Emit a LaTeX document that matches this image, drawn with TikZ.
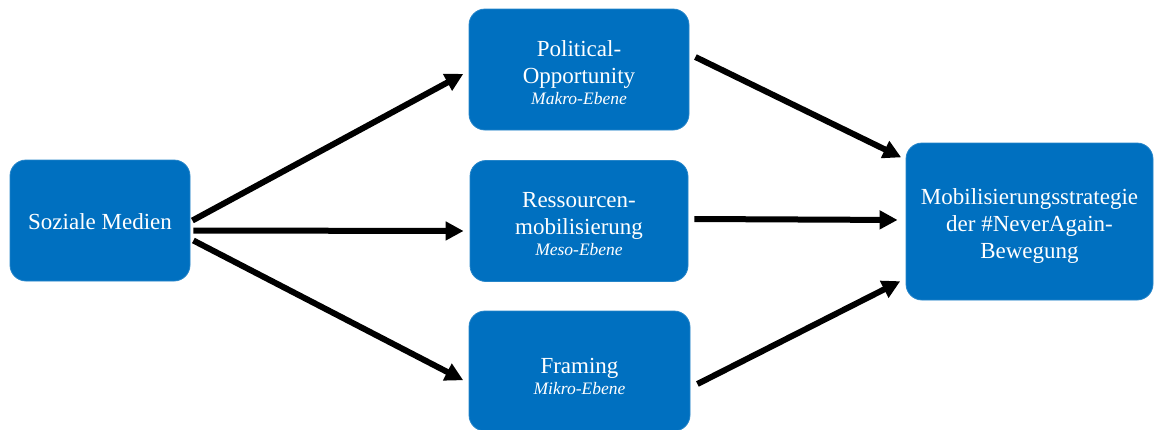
\documentclass[tikz,border=0pt]{standalone}
\usepackage{fontspec}
\setmainfont{Liberation Serif}
\usetikzlibrary{arrows.meta,positioning}
\definecolor{boxblue}{HTML}{0070C0}
\begin{document}
\begin{tikzpicture}[x=1pt,y=-1pt,
  box/.style={draw=boxblue!85!white, line width=0.8pt, fill=boxblue, rounded corners=16pt,
    inner sep=0pt},
  txt/.style={text=white, align=center, inner sep=0pt, font=\fontsize{23}{27}\selectfont},
  arr/.style={line width=6pt, -{Triangle[length=18pt,width=18pt]}, shorten >=6pt}]
\useasboundingbox (0,0) rectangle (1154,429);
% boxes
\node[box, minimum width=180pt, minimum height=121pt] (soz) at (100,220.5) {};
\node[box, minimum width=220pt, minimum height=121pt] (pol) at (579,69.5) {};
\node[box, minimum width=218pt, minimum height=121pt] (res) at (579,221) {};
\node[box, minimum width=221pt, minimum height=120pt] (fra) at (579.5,371) {};
\node[box, minimum width=247pt, minimum height=157pt] (mob) at (1029.5,221.5) {};
% box texts
\node[txt] (sozt) at ([yshift=-1pt]soz.center) {Soziale Medien};
\node[txt] (polt) at ([yshift=-3pt]pol.center)
  {Political-\\Opportunity\\[-6pt]{\fontsize{17.5}{21}\selectfont\itshape Makro-Ebene}};
\node[txt] (rest) at ([yshift=-3pt]res.center)
  {Ressourcen-\\mobilisierung\\[-6pt]{\fontsize{17.5}{21}\selectfont\itshape Meso-Ebene}};
\node[txt] (frat) at ([yshift=-5pt]fra.center)
  {Framing\\[-6pt]{\fontsize{17.5}{21}\selectfont\itshape Mikro-Ebene}};
\node[txt] (mobt) at ([yshift=-4pt]mob.center)
  {Mobilisierungsstrategie\\der \#NeverAgain-\\Bewegung};
% connectors from the source to the three levels
\draw[arr] ([xshift=2pt,yshift=0pt]soz.east) -- ([yshift=-1.5pt]pol.west);
\draw[arr] ([xshift=3pt,yshift=-10pt]soz.east) -- ([yshift=-10pt]res.west);
\draw[arr] ([xshift=3pt,yshift=-20pt]soz.east) -- ([yshift=-12pt]fra.west);
% connectors from the levels to the strategy
\draw[arr] ([xshift=6pt,yshift=12.5pt]pol.east) -- ([xshift=1pt,yshift=61.5pt]mob.west);
\draw[arr] ([xshift=6pt,yshift=2pt]res.east) -- ([xshift=-2pt,yshift=1.5pt]mob.west);
\draw[arr] ([xshift=7pt,yshift=-13pt]fra.east) -- ([xshift=0pt,yshift=-57pt]mob.west);
\end{tikzpicture}
\end{document}
